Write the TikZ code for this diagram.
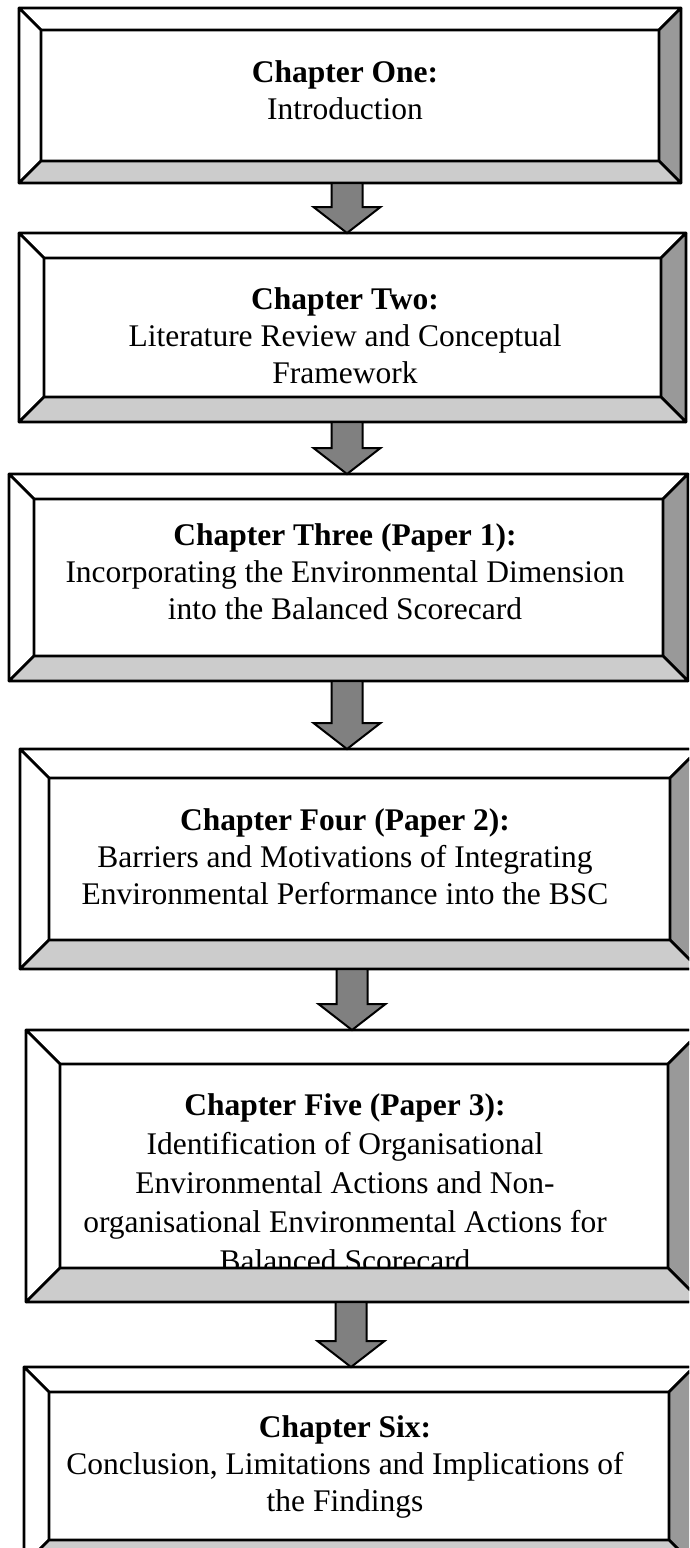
\documentclass[tikz,border=0pt]{standalone}
\usepackage{fontspec}
\setmainfont{Liberation Serif}
\usepackage{tikz}
\usetikzlibrary{calc}

\definecolor{bevdark}{HTML}{999999}
\definecolor{bevlight}{HTML}{CCCCCC}
\definecolor{arrgray}{HTML}{808080}

\begin{document}
\begin{tikzpicture}[
    x=1pt, y=-1pt,
    chap/.style={rectangle, draw=black, fill=white, line width=2.6pt,
                 inner sep=0pt, outer sep=0pt},
    txt/.style={align=center, inner sep=0pt,
                font=\fontsize{31.5}{37}\selectfont},
    face/.style={fill=#1, draw=black, line width=2.6pt, line join=round},
    arr/.style={fill=arrgray, draw=black, line width=2pt, line join=miter}
]
\useasboundingbox (0,0) rectangle (689,1548);
\clip (0,0) rectangle (689,1548);

% chapter boxes
\node[chap, minimum width=662, minimum height=175] (c1) at (350,95.5)   {};
\node[chap, minimum width=667, minimum height=189] (c2) at (352.5,327.5) {};
\node[chap, minimum width=679, minimum height=207] (c3) at (348.5,577.5) {};
\node[chap, minimum width=679, minimum height=220] (c4) at (359.5,859)   {};
\node[chap, minimum width=676, minimum height=272] (c5) at (364,1166)    {};
\node[chap, minimum width=670, minimum height=198] (c6) at (359,1466)    {};

% chapter texts
\node[txt] (t1) at (345,90)   {\textbf{Chapter One:}\\Introduction};
\node[txt] (t2) at (345,336)  {\textbf{Chapter Two:}\\Literature Review and Conceptual\\Framework};
\node[txt] (t3) at (345,572)  {\textbf{Chapter Three (Paper 1):}\\Incorporating the Environmental Dimension\\into the Balanced Scorecard};
\node[txt] (t4) at (345,857)  {\textbf{Chapter Four (Paper 2):}\\Barriers and Motivations of Integrating\\Environmental Performance into the BSC};
\node[txt, font=\fontsize{31.5}{39}\selectfont] (t5) at (345,1183)
  {\textbf{Chapter Five (Paper 3):}\\Identification of Organisational\\Environmental Actions and Non-\\organisational Environmental Actions for\\Balanced Scorecard};
\node[txt] (t6) at (345,1467) {\textbf{Chapter Six:}\\Conclusion, Limitations and Implications of\\the Findings};

% bevelled frames
\foreach \b/\s in {c1/22, c2/25, c3/25, c4/29, c5/34, c6/25} {
  \draw[face=white] let \p1=(\b.south west), \p2=(\b.north east) in
    (\x1,\y2) -- (\x2,\y2) -- (\x2-\s*1pt,\y2-\s*1pt) -- (\x1+\s*1pt,\y2-\s*1pt) -- cycle;
  \draw[face=white] let \p1=(\b.south west), \p2=(\b.north east) in
    (\x1,\y1) -- (\x1,\y2) -- (\x1+\s*1pt,\y2-\s*1pt) -- (\x1+\s*1pt,\y1+\s*1pt) -- cycle;
  \draw[face=bevdark] let \p1=(\b.south west), \p2=(\b.north east) in
    (\x2,\y1) -- (\x2,\y2) -- (\x2-\s*1pt,\y2-\s*1pt) -- (\x2-\s*1pt,\y1+\s*1pt) -- cycle;
  \draw[face=bevlight] let \p1=(\b.south west), \p2=(\b.north east) in
    (\x1,\y1) -- (\x2,\y1) -- (\x2-\s*1pt,\y1+\s*1pt) -- (\x1+\s*1pt,\y1+\s*1pt) -- cycle;
}

% block arrows between chapters
\foreach \a/\b/\dx in {c1/c2/-3, c2/c3/-5.5, c3/c4/-1.5, c4/c5/-7.5, c5/c6/-13} {
  \draw[arr] let \p1=([xshift=\dx]\a.south), \p2=(\b.north) in
    (\x1-15.5pt,\y1) -- (\x1-15.5pt,\y2+26pt) -- (\x1-33.5pt,\y2+26pt) -- (\x1,\y2)
    -- (\x1+33.5pt,\y2+26pt) -- (\x1+15.5pt,\y2+26pt) -- (\x1+15.5pt,\y1) -- cycle;
}
\end{tikzpicture}
\end{document}
